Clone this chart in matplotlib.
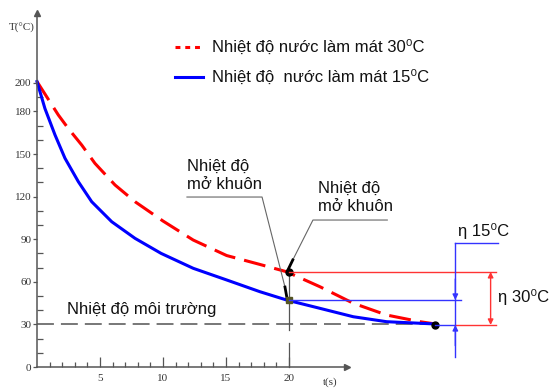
import matplotlib
matplotlib.use("Agg")
import matplotlib.pyplot as plt

# curves: time (s) -> temperature (C)
t_30 = [0, 1.69, 2.48, 3.55, 4.6, 6.19, 7.78, 10.0, 12.4, 15.05, 17.7, 19.8,
        22.46, 25.1, 27.75, 30.4, 31.6]
T_30 = [201, 177.5, 168, 156.3, 143.4, 128.2, 116.4, 102.8, 89.4, 78.5, 72.2, 67.1,
        56.5, 44.9, 36.6, 31.9, 30.3]
t_15 = [0, 0.63, 1.43, 2.22, 3.28, 4.34, 5.93, 7.78, 9.85, 12.4, 15.05, 17.7, 19.8,
        22.46, 25.1, 27.75, 30.4, 31.6]
T_15 = [201, 182, 163.4, 147, 130.5, 116.4, 102.3, 90.6, 80, 69.5, 61.3, 53, 47.2,
        41.3, 35.4, 31.9, 30.8, 30.3]

T_env = 30
t_open = 20
T_open_30 = 67
T_open_15 = 47.2
t_end = 31.6

y_major = [0, 30, 60, 90, 120, 150, 180, 200]
y_minor = [10, 20, 40, 50, 70, 80, 100, 110, 130, 140, 160, 170, 190]
x_major = [5, 10, 15, 20]
x_minor = [1, 2, 3, 4, 6, 7, 8, 9, 11, 12, 13, 14, 16, 17, 18, 19]

lbl_30 = "Nhiệt độ nước làm mát 30⁰C"
lbl_15 = "Nhiệt độ  nước làm mát 15⁰C"
sans = ["Liberation Sans", "DejaVu Sans"]
serif = ["Liberation Serif", "DejaVu Serif"]

fig = plt.figure(figsize=(5.55, 3.91), dpi=100)
ax = fig.add_axes([0, 0, 1, 1])
ax.set_xlim(-2.937, 41.11)
ax.set_ylim(-16.9, 258.45)
ax.patch.set_visible(False)

axc = "#555555"
for s in ["top", "right"]:
    ax.spines[s].set_visible(False)
ax.spines["left"].set_position(("data", 0))
ax.spines["bottom"].set_position(("data", 0))
ax.spines["left"].set_bounds(0, 249)
ax.spines["bottom"].set_bounds(0, 24.6)
for s in ["left", "bottom"]:
    ax.spines[s].set_color(axc)
    ax.spines[s].set_linewidth(1.1)
ax.plot([0], [249], marker="^", ms=5, color=axc, clip_on=False)
ax.plot([24.6], [0], marker=">", ms=5, color=axc, clip_on=False)

ax.set_yticks(y_major)
ax.set_yticks(y_minor, minor=True)
ax.set_xticks(x_major)
ax.set_xticks(x_minor, minor=True)
ax.tick_params(axis="y", which="major", direction="out", length=3, width=0.9, color=axc, pad=1)
ax.tick_params(axis="y", which="minor", direction="in", length=4, width=0.9, color=axc)
ax.tick_params(axis="x", which="major", direction="in", length=7, width=0.9, color=axc, pad=5)
ax.tick_params(axis="x", which="minor", direction="in", length=3.5, width=0.9, color=axc)
for lab in ax.get_xticklabels() + ax.get_yticklabels():
    lab.set_family(serif)
    lab.set_fontsize(8)
    lab.set_color("#333333")

ax.text(-1.2, 238.7, "T(°C)", family=serif, fontsize=8, color="#333333", ha="center", va="center")
ax.text(23.3, -10.5, "t(s)", family=serif, fontsize=8, color="#333333", ha="center", va="center")

# environment temperature
ax.plot([0, t_end], [T_env, T_env], color="#777777", lw=1.4, dashes=(8.7, 3.6))
ax.text(2.4, 40.5, "Nhiệt độ môi trường", family=sans, fontsize=12, color="#111111", va="center")

# cooling curves
ax.plot(t_30, T_30, color="#ff0000", lw=2.2, dashes=(7.2, 3))
ax.plot(t_15, T_15, color="#0000ff", lw=2.2)
ax.plot([t_end], [29.8], marker="o", ms=5, color="black")

# mould opening time
ax.plot([t_open, t_open], [T_open_30, 26], color=axc, lw=0.9)
ax.plot([t_open, t_open], [17, 0], color=axc, lw=0.9)

# leader to the 15C point
ax.plot([11.9, 17.86, 19.68], [119.7, 119.7, 56.3], color="#666666", lw=0.8)
ax.plot([19.68, 19.84], [56.3, 48.5], color="black", lw=2)
ax.plot([t_open], [T_open_15], marker="s", ms=4, color="#555522")
ax.text(11.9, 135, "Nhiệt độ\nmở khuôn", family=sans, fontsize=12, color="#111111", va="center", linespacing=1.25)

# leader to the 30C point
ax.plot([27.8, 21.9, 20.3], [103.5, 103.5, 75.4], color="#666666", lw=0.8)
ax.plot([20.3, 19.95], [75.4, 69], color="black", lw=2)
ax.plot([t_open], [T_open_30], marker="o", ms=5, color="black")
ax.text(22.3, 119.7, "Nhiệt độ\nmở khuôn", family=sans, fontsize=12, color="#111111", va="center", linespacing=1.25)

# eta markers on the right
red_l = "#ff3333"
blue_l = "#3333ff"
ax.plot([t_open, 36.4], [T_open_30, T_open_30], color=red_l, lw=1)
ax.plot([t_open, 33.65], [T_open_15, T_open_15], color=blue_l, lw=1)
ax.plot([t_end, 33.2], [29.6, 29.6], color=blue_l, lw=1)
ax.plot([33.2, 36.4], [29.6, 29.6], color=red_l, lw=1)
ax.plot([33.2, 33.2], [7, 87.3], color=blue_l, lw=1)
ax.plot([33.2, 36.6], [87.3, 87.3], color=blue_l, lw=1)
ax.annotate("", xy=(33.2, T_open_15), xytext=(33.2, 62),
            arrowprops=dict(arrowstyle="-|>", color=blue_l, lw=1, mutation_scale=8, shrinkA=0, shrinkB=0))
ax.annotate("", xy=(33.2, 29.6), xytext=(33.2, 15),
            arrowprops=dict(arrowstyle="-|>", color=blue_l, lw=1, mutation_scale=8, shrinkA=0, shrinkB=0))
ax.annotate("", xy=(36.0, T_open_30), xytext=(36.0, 29.6),
            arrowprops=dict(arrowstyle="<|-|>", color=red_l, lw=1, mutation_scale=8, shrinkA=0, shrinkB=0))
ax.text(33.4, 95.5, "η 15⁰C", family=sans, fontsize=12, color="#111111", va="center")
ax.text(36.6, 49.3, "η 30⁰C", family=sans, fontsize=12, color="#111111", va="center")

# legend drawn by hand
ax.plot([10.95, 13.17], [225.4, 225.4], color="#ff0000", lw=2.2, dashes=(1.6, 1.6))
ax.plot([10.95, 13.17], [204.2, 204.2], color="#0000ff", lw=2.2)
ax.text(13.9, 225.4, lbl_30, family=sans, fontsize=12, color="#111111", va="center")
ax.text(13.9, 204.2, lbl_15, family=sans, fontsize=12, color="#111111", va="center")

fig.savefig("out.png", dpi=100)
